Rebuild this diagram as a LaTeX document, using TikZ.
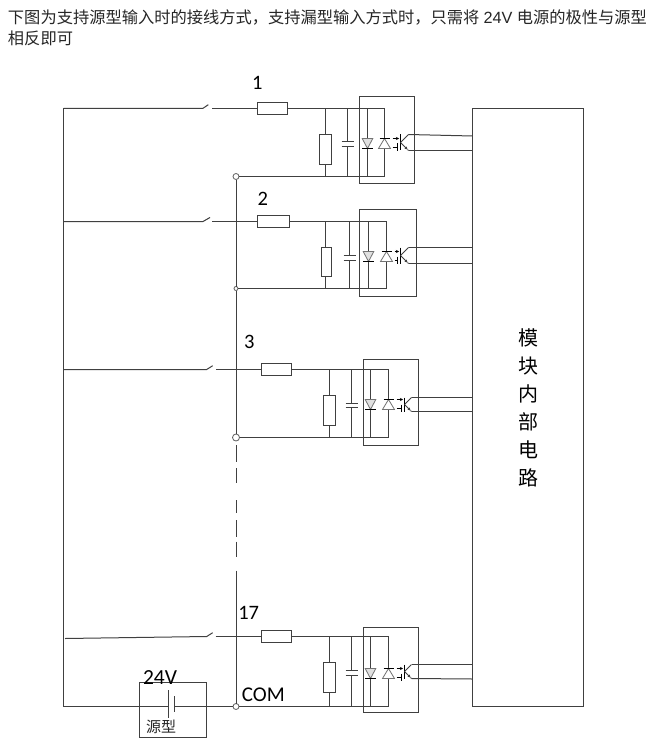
\documentclass[tikz,border=0pt]{standalone}
\usepackage{fontspec}
\setmainfont{Liberation Sans}
\newfontfamily\cjk{Noto Sans CJK SC}
\newfontfamily\lab{Carlito}
\usetikzlibrary{arrows.meta}
\definecolor{wirec}{HTML}{404040}
\definecolor{inkc}{HTML}{262626}
\tikzset{
  wire/.style={draw=wirec,line width=1pt},
  part/.style={draw=wirec,line width=1pt,fill=white,rectangle,inner sep=0pt,outer sep=0pt},
  frame/.style={draw=wirec,line width=1pt,rectangle,inner sep=0pt,outer sep=0pt},
  junction/.style={draw=wirec!85,line width=0.8pt,fill=white,circle,inner sep=0pt,outer sep=0pt},
  diode/.style={draw=black!55,line width=0.8pt},
  ink/.style={draw=black,line width=1pt},
  txt/.style={inner sep=0pt,outer sep=0pt,text=inkc},
  num/.style={txt,text=black,font=\lab\fontsize{20.5}{20}\selectfont},
}
\begin{document}
\begin{tikzpicture}[x=1pt,y=-1pt]
\useasboundingbox[fill=white] (0,0) rectangle (661,754);
% text
\node[txt,anchor=west,font=\fontsize{16.25}{16}\selectfont] (line1) at (8,17) {\cjk 下图为支持源型输入时的接线方式，支持漏型输入方式时，只需将\hspace{4.4pt}{\rmfamily 24V}\hspace{4.4pt}电源的极性与源型};
\node[txt,anchor=west,font=\fontsize{16.25}{16}\selectfont] (line2) at (8,38) {\cjk 相反即可};
% module
\node[frame,minimum width=111pt,minimum height=598pt,anchor=north west] (big) at (472.5,108.5) {};
\node[txt,align=center,text=black,font=\cjk\fontsize{20}{28}\selectfont] (bigtxt) at (528.3,407.6) {模\\块\\内\\部\\电\\路};
% junctions
\foreach \n/\yb/\crad in {1/176.5/6,2/288.5/4,3/437.5/7,4/706.5/6}{
  \node[junction,minimum size=\crad pt] (C\n) at (236,\yb) {};
}
% rails
\draw[wire] (63.5,108.5) -- (63.5,706.5);
\draw[wire] (236.5,179.5) -- (236.5,286.5);
\draw[wire] (236.5,290.5) -- (236.5,434);
\foreach \ya/\yc in {445/461.7,468.3/482.7,500/512.7,520/536.7,541.7/557.3}{
  \draw[wire] (236.5,\ya) -- (236.5,\yc);
}
\coordinate (railend) at (236.5,570.7);
\draw[wire] (railend) -- (236.5,703.5);
% switches
\foreach \n/\xa/\ya/\xb/\yc/\xt/\yt in {
 1/63.5/108.5/202.7/108.5/208.3/104.7,
 2/63.5/221.5/203/221.5/210/217.5,
 3/63.5/369.5/206.7/369.5/212.7/365.7,
 4/65/638.5/206.7/636.5/212.7/632.7}{
  \draw[wire] (\xa,\ya) -- (\xb,\yc) -- (\xt,\yt);
}
\coordinate (S1) at (212,108.5);
\coordinate (S2) at (212,221.5);
\coordinate (S3) at (216,369.5);
\coordinate (S4) at (215.7,636.5);
% rows
\foreach \n/\yt/\yb/\rl/\rw/\vx/\vc/\vw/\vt/\vh/\cx/\pa/\pb/\bx/\bw/\by/\bh/\da/\db/\dm/\qx/\qt/\qb/\qe/\ea/\eb in {
 1/108.5/176.5/257.5/30/325.5/325.5/12/134.5/30/347.5/141.5/146.5/359.5/55/96.5/87/367.5/384.5/143.5/400.5/134.5/150.5/408.5/136/150.5,
 2/221.5/288.5/257.5/32/325.5/326.5/10/247.5/29/349.5/255.5/260.5/359.5/57/209.5/87/368.5/386.5/256.5/400.5/247.5/263.5/408.5/247.5/263.5,
 3/369.5/437.5/261.5/30/329.5/329.5/12/395.5/30/351.5/403.5/407.5/363.5/55/359.5/86/370.5/388.5/404.5/404.5/397.5/411.5/411.5/397.5/411.5,
 4/636.5/706.5/261.5/30/329.5/329.5/12/662.5/30/351.5/670.5/675.5/363.5/55/627.5/85/370.5/388.5/673.5/404.5/664.5/678.5/411.5/664.5/679}{
  \node[part,minimum width=\rw pt,minimum height=12pt,anchor=west] (R\n) at (\rl,\yt) {};
  \node[part,minimum width=\vw pt,minimum height=\vh pt,anchor=north] (V\n) at (\vc,\vt) {};
  \node[frame,minimum width=\bw pt,minimum height=\bh pt,anchor=north west] (O\n) at (\bx,\by) {};
  \draw[wire] (S\n) -- (R\n.west);
  \draw[wire] (R\n.east) -- (\db,\yt) -- (\db,\yb) -- (C\n);
  \draw[wire] (\vx,\yt) -- (\vx,\vt);
  \draw[wire] (\vx,\vt+\vh) -- (\vx,\yb);
  % capacitor
  \draw[wire] (\cx,\yt) -- (\cx,\pa);
  \draw[wire] (\cx,\pb) -- (\cx,\yb);
  \draw[wire] (\cx-6,\pa) -- (\cx+6,\pa);
  \draw[wire] (\cx-6,\pb) -- (\cx+6,\pb);
  % diodes
  \draw[wire] (\da,\yt) -- (\da,\yb);
  \draw[diode,fill=black!12] (\da-5.3,\dm-5) -- (\da+5.3,\dm-5) -- (\da,\dm+5) -- cycle;
  \draw[ink] (\da-5.5,\dm+5) -- (\da+5.5,\dm+5);
  \draw[diode,fill=white] (\db-6,\dm+5) -- (\db+6,\dm+5) -- (\db,\dm-5) -- cycle;
  \draw[ink] (\db-5,\dm-5) -- (\db+5,\dm-5);
  % light arrows
  \draw[ink,-{Stealth[length=3pt,width=3pt]}] (\db+8,\dm-5) -- (\qx-1.5,\dm-5);
  \draw[ink] (\db+8,\dm+4) -- (\qx-3,\dm+4);
  \draw[ink] (\qx-3,\dm) -- (\qx-3,\dm+7.5);
  % transistor
  \draw[ink] (\qx,\qt) -- (\qx,\qb);
  \draw[wire] (\qx,\qt/2+\qb/2) -- (\qe,\qt);
  \draw[wire,-{Stealth[length=3pt,width=3pt]}] (\qx,\qt/2+\qb/2) -- (\qe-1,\qb-1);
  \draw[wire] (\qe-1,\qb-1) -- (\qe,\qb);
  \draw[wire] (\qe,\qt) -- (472.5,\ea);
  \draw[wire] (\qe,\qb) -- (472.5,\eb);
}
% source
\node[frame,minimum width=67pt,minimum height=55pt,anchor=north west] (src) at (139.5,682.5) {};
\coordinate (pa) at (168.5,706.5);
\coordinate (pb) at (174.5,706.5);
\draw[wire] (63.5,706.5) -- (pa);
\draw[wire] (pb) -- (C4);
\draw[wire] (168.5,690) -- (168.5,717.7);
\draw[wire] (174.5,696) -- (174.5,712.3);
% labels
\node[num] (n1) at (257.3,83.3) {1};
\node[num] (n2) at (262.7,199.3) {2};
\node[num] (n3) at (249.3,342.3) {3};
\node[num] (n17) at (248.7,613.3) {17};
\node[num,font=\lab\fontsize{21}{20}\selectfont] (ncom) at (263.3,694.3) {COM};
\node[num,font=\lab\fontsize{21.5}{20}\selectfont] (nv) at (160,677.3) {24V};
\node[txt,font=\cjk\fontsize{15}{15}\selectfont] (nsrc) at (161,727.3) {源型};
\end{tikzpicture}
\end{document}
